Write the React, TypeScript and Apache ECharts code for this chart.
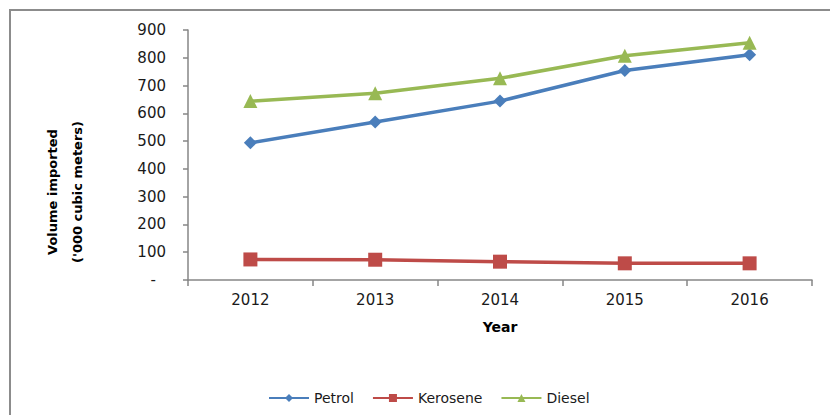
import React, { useEffect, useRef } from "react";
import * as echarts from "echarts";

const years = ["2012", "2013", "2014", "2015", "2016"];
const petrol = [494, 569, 644, 754, 811];
const kerosene = [74, 73, 66, 60, 60];
const diesel = [644, 672, 726, 807, 854];
const yTicks = { min: 0, max: 900, interval: 100 };

const FONT = "DejaVu Sans";

export default function App() {
  const ref = useRef<HTMLDivElement>(null);
  useEffect(() => {
    const chart = echarts.init(ref.current!, null, { renderer: "svg" });
    const lineSeries = (name: string, data: number[], color: string, symbol: string, size: number) => ({
      name,
      type: "line",
      data,
      symbol,
      symbolSize: size,
      lineStyle: { color, width: 3.5 },
      itemStyle: { color },
    });
    chart.setOption({
      animation: false,
      backgroundColor: "#ffffff",
      textStyle: { fontFamily: FONT },
      grid: { left: 188, right: 18, top: 30, bottom: 135, containLabel: false },
      xAxis: {
        type: "category",
        data: years,
        boundaryGap: true,
        axisLine: { lineStyle: { color: "#868686", width: 1.5 } },
        axisTick: { show: true, length: 6, lineStyle: { color: "#868686", width: 1.5 } },
        axisLabel: { color: "#1a1a1a", fontSize: 15, margin: 12, fontFamily: FONT },
        name: "Year",
        nameLocation: "middle",
        nameGap: 40,
        nameTextStyle: { fontWeight: "bold", fontSize: 14, color: "#000", fontFamily: FONT },
      },
      yAxis: {
        type: "value",
        min: yTicks.min,
        max: yTicks.max,
        interval: yTicks.interval,
        splitLine: { show: false },
        axisLine: { show: true, lineStyle: { color: "#868686", width: 1.5 } },
        axisTick: { show: true, length: 5, lineStyle: { color: "#868686", width: 1.5 } },
        axisLabel: {
          color: "#1a1a1a",
          fontSize: 15,
          margin: 22,
          fontFamily: FONT,
          formatter: (v: number) => (v === 0 ? "{z|-}" : String(v)),
          rich: { z: { fontSize: 15, color: "#1a1a1a", padding: [0, 10, 0, 0], fontFamily: FONT } },
        },
      },
      legend: {
        data: ["Petrol", "Kerosene", "Diesel"],
        left: 263,
        top: 386,
        itemWidth: 40,
        itemHeight: 10,
        itemGap: 18,
        textStyle: { fontSize: 14, color: "#1a1a1a", fontFamily: FONT },
      },
      graphic: [
        {
          type: "rect",
          shape: { x: 10, y: 10, width: 840, height: 430 },
          style: { fill: "none", stroke: "#8c8c8c", lineWidth: 2 },
          silent: true,
        },
        {
          type: "text",
          x: 65,
          y: 192,
          rotation: Math.PI / 2,
          style: {
            text: "Volume imported\n('000 cubic meters)",
            font: `bold 13px "${FONT}"`,
            fill: "#000",
            align: "center",
            verticalAlign: "middle",
            lineHeight: 25,
          },
        },
      ],
      series: [
        lineSeries("Petrol", petrol, "#4a7ebb", "diamond", 13),
        lineSeries("Kerosene", kerosene, "#be4b48", "rect", 14),
        lineSeries("Diesel", diesel, "#98b954", "triangle", 14),
      ],
    });
    return () => chart.dispose();
  }, []);
  return (
    <div
      ref={ref}
      style={{ position: "fixed", left: 0, top: 0, width: 830, height: 415 }}
    />
  );
}
